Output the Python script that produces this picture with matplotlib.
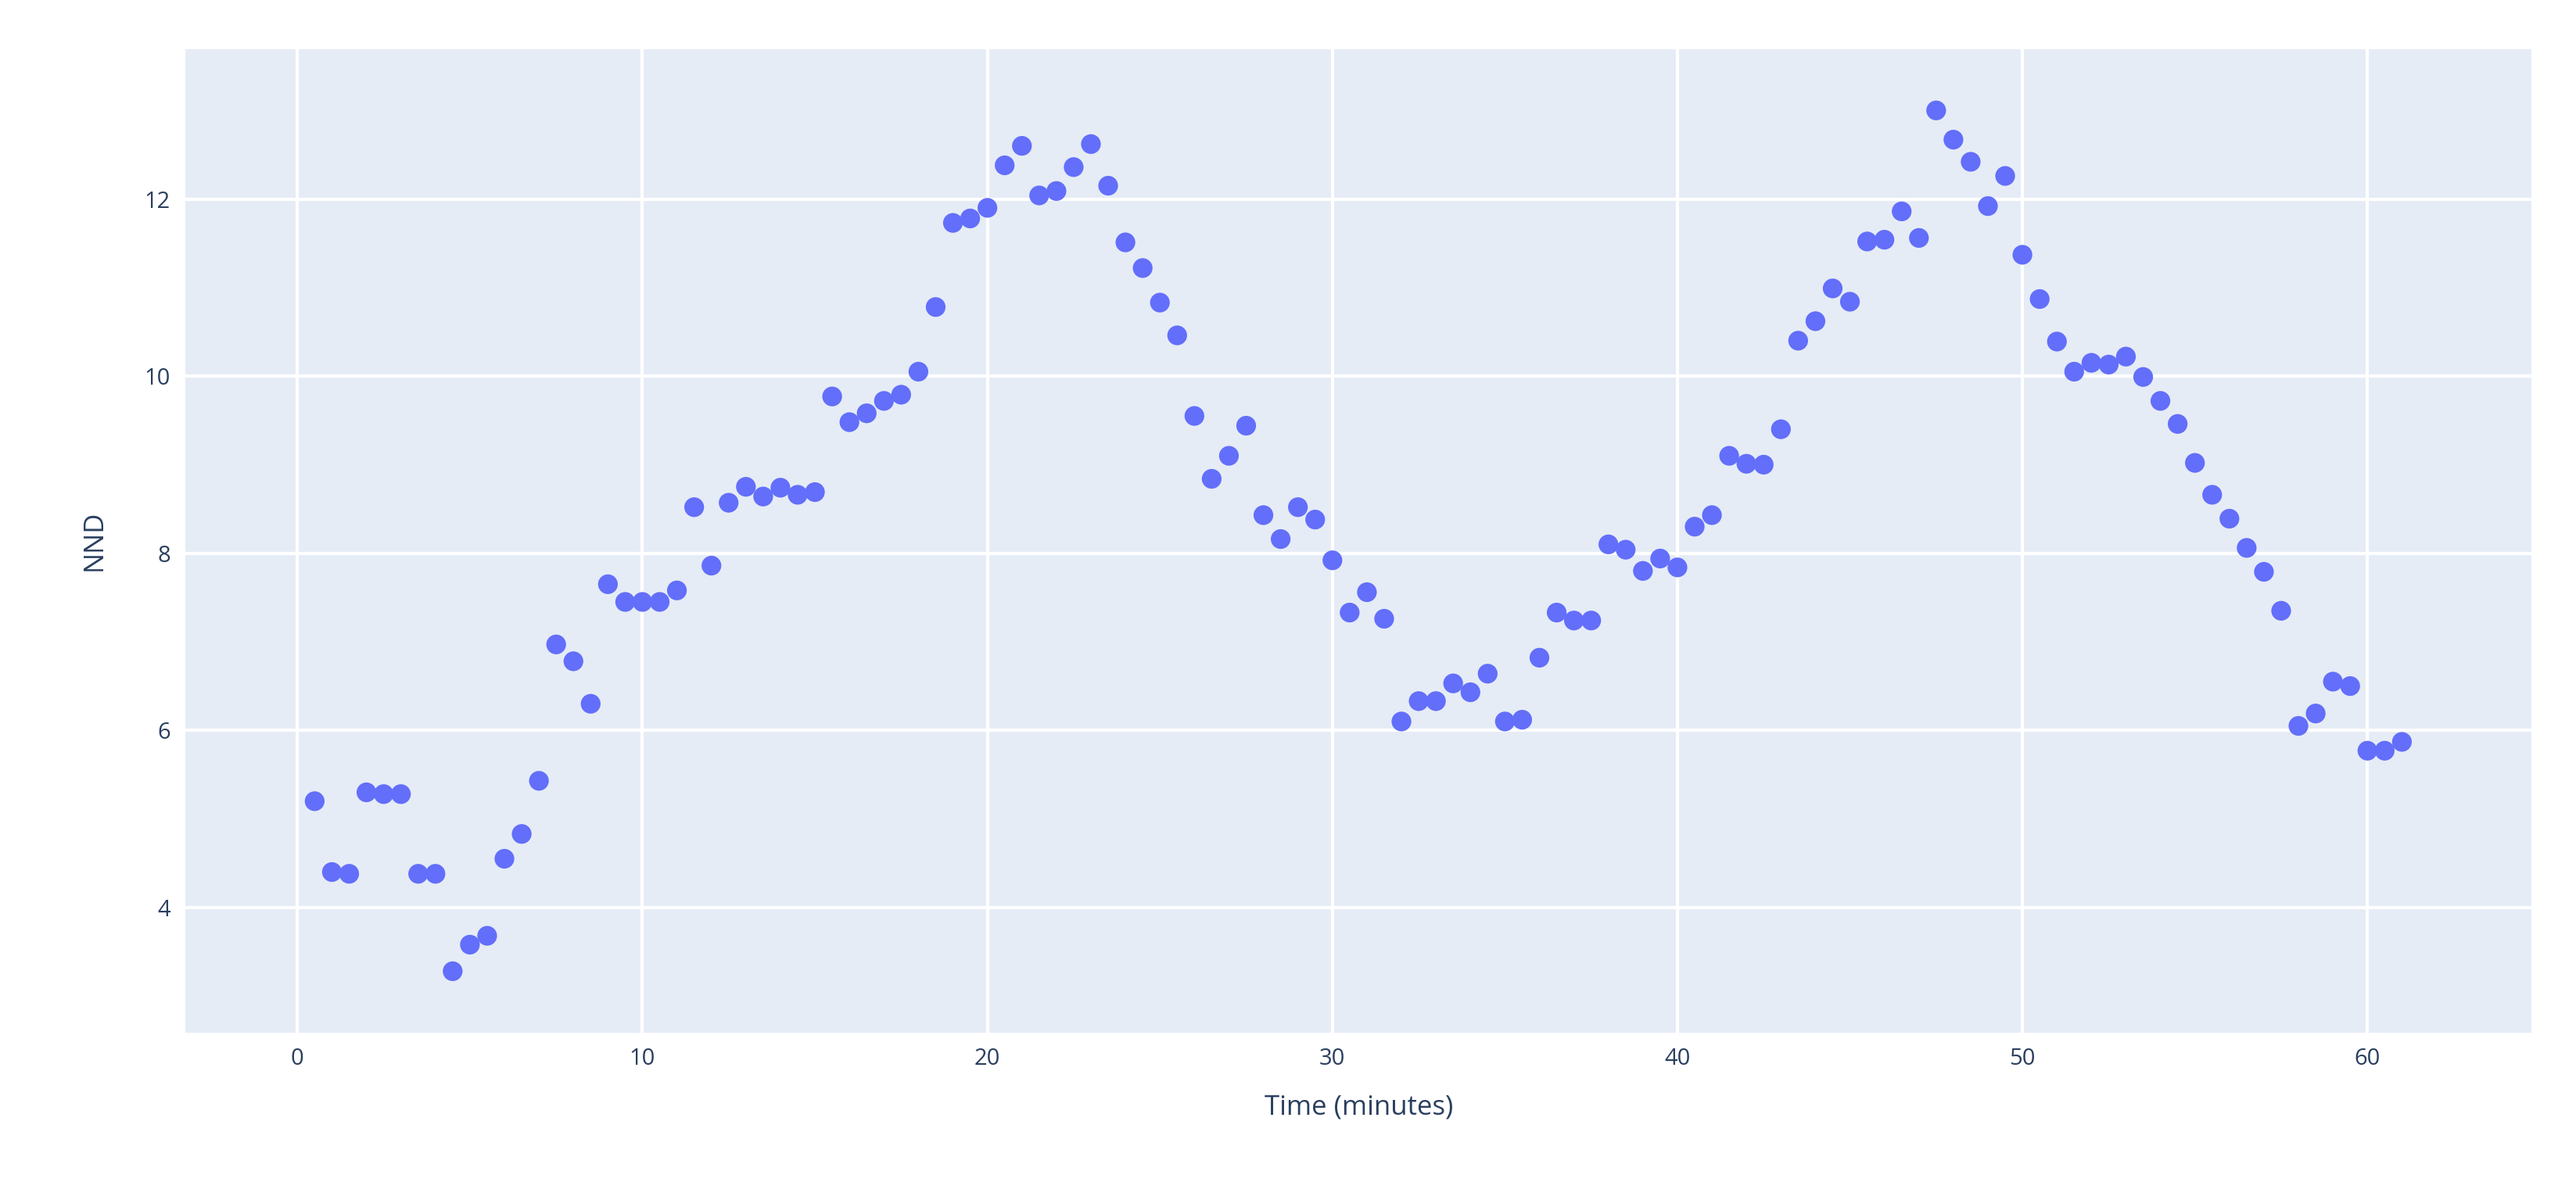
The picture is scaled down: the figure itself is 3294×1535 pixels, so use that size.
import numpy as np
import matplotlib.pyplot as plt

# time in minutes, one sample every half minute
time_min = np.arange(0.5, 61.01, 0.5)
nnd = [5.2, 4.4, 4.38, 5.3, 5.28, 5.28, 4.38, 4.38, 3.28, 3.58,
       3.68, 4.55, 4.83, 5.43, 6.97, 6.78, 6.3, 7.65, 7.45, 7.45,
       7.45, 7.58, 8.52, 7.86, 8.57, 8.75, 8.64, 8.74, 8.66, 8.69,
       9.77, 9.48, 9.58, 9.72, 9.79, 10.05, 10.78, 11.73, 11.78, 11.9,
       12.38, 12.6, 12.04, 12.09, 12.36, 12.62, 12.15, 11.51, 11.22, 10.83,
       10.46, 9.55, 8.84, 9.1, 9.44, 8.43, 8.16, 8.52, 8.38, 7.92,
       7.33, 7.56, 7.26, 6.1, 6.33, 6.33, 6.53, 6.43, 6.64, 6.1,
       6.12, 6.82, 7.33, 7.24, 7.24, 8.1, 8.04, 7.8, 7.94, 7.84,
       8.3, 8.43, 9.1, 9.01, 9.0, 9.4, 10.4, 10.62, 10.99, 10.84,
       11.52, 11.54, 11.86, 11.56, 13.0, 12.67, 12.42, 11.92, 12.26, 11.37,
       10.87, 10.39, 10.05, 10.15, 10.13, 10.22, 9.99, 9.72, 9.46, 9.02,
       8.66, 8.39, 8.06, 7.79, 7.35, 6.05, 6.19, 6.55, 6.5, 5.77,
       5.77, 5.87]

plt.rcParams['font.family'] = ['Open Sans', 'DejaVu Sans']
fig = plt.figure(figsize=(32.94, 15.35), dpi=100)
ax = fig.add_axes([113/1568, 1 - 628/730, (1541-113)/1568, (628-30)/730])
ax.set_facecolor('#E5ECF6')
ax.scatter(time_min, nnd, s=330, color='#636EFA', edgecolors='none', zorder=3)

ax.set_xlim(-3.24, 64.76)
ax.set_ylim(2.59, 13.69)
ax.set_xticks(range(0, 61, 10))
ax.set_yticks(range(4, 13, 2))
ax.grid(color='white', linewidth=3)
ax.set_axisbelow(True)
for s in ax.spines.values():
    s.set_visible(False)
ax.tick_params(length=0, labelsize=21, colors='#2A3F5F', pad=14)
ax.set_xlabel('Time (minutes)', fontsize=25, color='#2A3F5F', labelpad=22)
ax.set_ylabel('NND', fontsize=25, color='#2A3F5F', labelpad=34)

fig.savefig('out.png')
